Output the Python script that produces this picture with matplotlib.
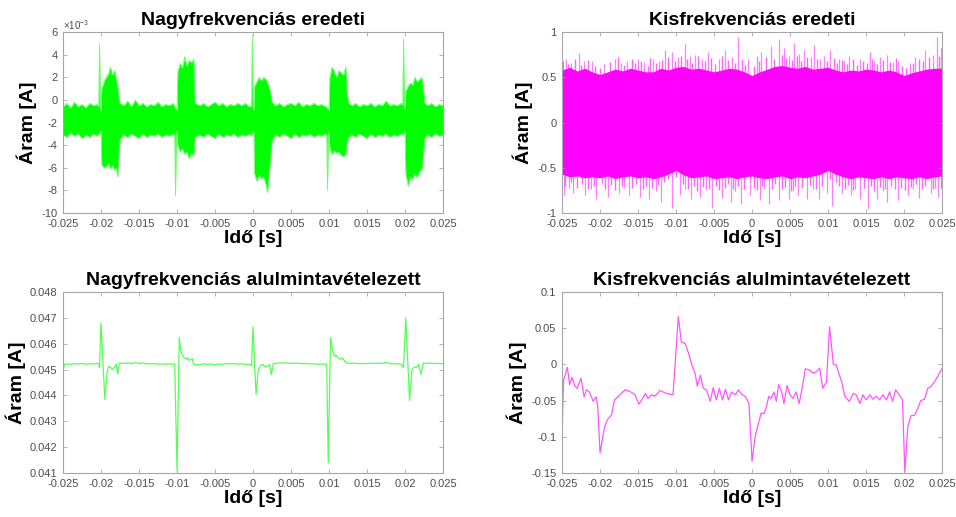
import numpy as np
import matplotlib
matplotlib.use("Agg")
import matplotlib.pyplot as plt

plt.rcParams['font.family'] = ['Liberation Sans', 'DejaVu Sans']
plt.rcParams['mathtext.fontset'] = 'custom'
plt.rcParams['mathtext.rm'] = 'Liberation Sans'

# --- Nagyfrekvenciás eredeti: envelope of the dense signal (x1e-3 A)
hf_t = [-0.0250, -0.0245, -0.0240, -0.0235, -0.0230, -0.0225, -0.0220, -0.0215, -0.0210, -0.0205,
        -0.0203, -0.0202, -0.0201, -0.0200,
        -0.0199, -0.0195, -0.0190, -0.0188, -0.0185, -0.0182, -0.0180, -0.0178, -0.0177, -0.0175,
        -0.0170, -0.0165, -0.0160, -0.0155, -0.0150, -0.0145, -0.0140, -0.0135, -0.0130, -0.0125,
        -0.0120, -0.0115, -0.0110, -0.0105,
        -0.0103, -0.0102, -0.0101, -0.0100,
        -0.0099, -0.0096, -0.0093, -0.0090, -0.0087, -0.0084, -0.0081, -0.0078, -0.0077, -0.0076,
        -0.0070, -0.0065, -0.0060, -0.0055, -0.0050, -0.0045, -0.0040, -0.0035, -0.0030, -0.0025,
        -0.0020, -0.0015, -0.0010, -0.0005,
        -0.0002, -0.0001, 0.0000, 0.0001,
        0.0002, 0.0005, 0.0008, 0.0011, 0.0014, 0.0017, 0.0019, 0.0022, 0.0025,
        0.0030, 0.0035, 0.0040, 0.0045, 0.0050, 0.0055, 0.0060, 0.0065, 0.0070, 0.0075,
        0.0080, 0.0085, 0.0090, 0.0095,
        0.0097, 0.0098, 0.0099, 0.0100,
        0.0101, 0.0104, 0.0107, 0.0110, 0.0113, 0.0116, 0.0119, 0.0122, 0.0124, 0.0126,
        0.0130, 0.0135, 0.0140, 0.0145, 0.0150, 0.0155, 0.0160, 0.0165, 0.0170, 0.0175,
        0.0180, 0.0185, 0.0190, 0.0195,
        0.0197, 0.0198, 0.0199, 0.0200,
        0.0201, 0.0204, 0.0207, 0.0210, 0.0213, 0.0216, 0.0219, 0.0222, 0.0224, 0.0226,
        0.0230, 0.0235, 0.0240, 0.0245, 0.0250]
hf_hi = [-0.6, -0.3, -0.7, -0.2, -0.6, -0.4, -0.7, -0.3, -0.5, -0.4,
         -0.6, 5.0, -0.8, -1.0,
         1.0, 1.8, 2.3, 2.9, 2.2, 2.6, 1.8, 1.2, 0.5, -0.3,
         -0.5, -0.1, -0.6, 0.0, -0.5, -0.3, -0.6, -0.4, -0.5, -0.2,
         -0.6, -0.4, -0.5, -0.3,
         -0.6, -0.8, -0.8, -0.9,
         2.5, 3.2, 2.8, 3.8, 3.0, 3.5, 3.3, 3.6, 1.0, -0.3,
         -0.5, -0.3, -0.6, -0.4, -0.2, -0.5, -0.3, -0.6, -0.4, -0.5,
         -0.3, -0.5, -0.3, -0.6,
         -0.5, 5.7, -0.8, -0.9,
         1.2, 1.6, 2.0, 1.7, 2.0, 1.8, 1.5, 1.0, -0.2,
         -0.5, -0.3, -0.6, -0.4, -0.3, -0.5, -0.2, -0.6, -0.4, -0.5,
         -0.3, -0.5, -0.4, -0.6,
         -0.6, -0.8, -0.8, -0.9,
         2.0, 2.9, 2.5, 2.0, 2.6, 2.4, 2.2, 2.9, 0.5, -0.3,
         -0.5, -0.3, -0.6, -0.4, -0.5, -0.3, -0.6, -0.4, -0.5, -0.1,
         -0.5, -0.4, -0.5, -0.3,
         -0.5, 5.4, -0.8, -0.9,
         0.8, 1.2, 1.5, 1.3, 2.0, 1.6, 1.8, 2.0, 1.0, -0.3,
         -0.5, -0.3, -0.6, -0.4, -0.5]
hf_lo = [-3.1, -3.3, -2.9, -3.2, -3.0, -3.4, -3.1, -3.3, -3.0, -3.2,
         -3.0, -3.0, -2.8, -2.8,
         -5.8, -6.0, -5.6, -6.1, -5.8, -6.2, -6.0, -6.8, -5.5, -3.5,
         -3.1, -3.3, -3.0, -3.2, -3.4, -3.0, -3.3, -3.1, -3.2, -3.0,
         -3.3, -3.1, -3.2, -3.0,
         -3.1, -8.5, -2.8, -2.8,
         -4.0, -4.6, -4.3, -4.8, -4.6, -5.2, -4.7, -5.0, -4.0, -3.3,
         -3.1, -3.3, -3.0, -3.2, -3.4, -3.0, -3.3, -3.1, -3.2, -3.0,
         -3.3, -3.1, -3.2, -3.0,
         -3.2, -2.9, -2.8, -2.8,
         -6.5, -7.2, -6.6, -7.0, -6.8, -7.5, -8.2, -6.0, -3.6,
         -3.1, -3.3, -3.0, -3.2, -3.4, -3.0, -3.3, -3.1, -3.2, -3.0,
         -3.3, -3.1, -3.2, -3.0,
         -3.1, -8.0, -2.8, -2.8,
         -4.2, -4.8, -4.5, -4.7, -4.6, -4.9, -5.0, -4.8, -3.8, -3.3,
         -3.1, -3.3, -3.0, -3.2, -3.4, -3.0, -3.3, -3.1, -3.2, -3.0,
         -3.3, -3.1, -3.2, -3.0,
         -3.1, -3.0, -2.8, -2.8,
         -6.5, -7.6, -6.8, -7.0, -6.5, -6.9, -6.3, -6.2, -5.0, -3.4,
         -3.1, -3.3, -3.0, -3.2, -3.1]

# --- Kisfrekvenciás eredeti: core band every 1 ms plus spikes (A)
kf_t = [-0.025, -0.024, -0.023, -0.022, -0.021, -0.020, -0.019, -0.018, -0.017, -0.016,
        -0.015, -0.014, -0.013, -0.012, -0.011, -0.010, -0.009, -0.008, -0.007, -0.006,
        -0.005, -0.004, -0.003, -0.002, -0.001, 0.000, 0.001, 0.002, 0.003, 0.004,
        0.005, 0.006, 0.007, 0.008, 0.009, 0.010, 0.011, 0.012, 0.013, 0.014,
        0.015, 0.016, 0.017, 0.018, 0.019, 0.020, 0.021, 0.022, 0.023, 0.024, 0.025]
kf_hi = [0.58, 0.61, 0.57, 0.60, 0.56, 0.53, 0.56, 0.59, 0.57, 0.60,
         0.58, 0.56, 0.56, 0.60, 0.58, 0.61, 0.62, 0.59, 0.60, 0.58,
         0.56, 0.58, 0.60, 0.59, 0.56, 0.52, 0.56, 0.59, 0.62, 0.63,
         0.61, 0.60, 0.62, 0.59, 0.60, 0.61, 0.58, 0.56, 0.58, 0.57,
         0.59, 0.58, 0.56, 0.58, 0.56, 0.52, 0.55, 0.57, 0.59, 0.60, 0.60]
kf_lo = [-0.57, -0.60, -0.59, -0.61, -0.60, -0.61, -0.59, -0.62, -0.60, -0.59,
         -0.61, -0.60, -0.62, -0.60, -0.57, -0.53, -0.58, -0.61, -0.60, -0.59,
         -0.62, -0.61, -0.60, -0.62, -0.60, -0.59, -0.61, -0.62, -0.60, -0.59,
         -0.62, -0.60, -0.61, -0.59, -0.57, -0.53, -0.57, -0.60, -0.62, -0.60,
         -0.61, -0.62, -0.60, -0.62, -0.60, -0.61, -0.62, -0.60, -0.62, -0.60, -0.59]
kf_up_t = [-0.0245, -0.0238, -0.0228, -0.0221, -0.0210, -0.0195, -0.0180, -0.0172, -0.0165, -0.0150,
           -0.0142, -0.0130, -0.0122, -0.0115, -0.0105, -0.0097, -0.0088, -0.0082, -0.0075, -0.0066,
           -0.0058, -0.0044, -0.0035, -0.0026, -0.0018, -0.0005, 0.0006, 0.0012, 0.0025, 0.0035,
           0.0042, 0.0048, 0.0055, 0.0062, 0.0068, 0.0078, 0.0082, 0.0090, 0.0095, 0.0102,
           0.0115, 0.0121, 0.0128, 0.0142, 0.0155, 0.0161, 0.0168, 0.0178, 0.0185, 0.0192,
           0.0208, 0.0215, 0.0228, 0.0238, 0.0243, 0.0248]
kf_up_v = [0.70, 0.66, 0.77, 0.68, 0.68, 0.65, 0.70, 0.66, 0.68, 0.70,
           0.67, 0.70, 0.68, 0.80, 0.78, 0.72, 0.87, 0.74, 0.75, 0.70,
           0.78, 0.70, 0.80, 0.72, 0.94, 0.70, 0.74, 0.78, 0.85, 0.92,
           0.82, 0.74, 0.88, 0.76, 0.80, 0.72, 0.86, 0.70, 0.74, 0.80,
           0.70, 0.68, 0.73, 0.70, 0.78, 0.68, 0.72, 0.75, 0.67, 0.68,
           0.66, 0.72, 0.80, 0.75, 0.94, 0.82]
kf_dn_t = [-0.0248, -0.0241, -0.0235, -0.0220, -0.0212, -0.0205, -0.0190, -0.0175, -0.0168, -0.0162,
           -0.0148, -0.0135, -0.0127, -0.0120, -0.0105, -0.0095, -0.0088, -0.0080, -0.0068, -0.0060,
           -0.0053, -0.0040, -0.0028, -0.0022, -0.0015, -0.0003, 0.0010, 0.0016, 0.0022, 0.0035,
           0.0048, 0.0054, 0.0060, 0.0072, 0.0080, 0.0088, 0.0098, 0.0105, 0.0118, 0.0130,
           0.0136, 0.0142, 0.0152, 0.0165, 0.0172, 0.0178, 0.0192, 0.0205, 0.0212, 0.0220,
           0.0235, 0.0241, 0.0245]
kf_dn_v = [-0.80, -0.72, -0.78, -0.80, -0.74, -0.85, -0.82, -0.78, -0.72, -0.80,
           -0.82, -0.85, -0.76, -0.88, -0.95, -0.80, -0.74, -0.85, -0.82, -0.75,
           -0.95, -0.83, -0.88, -0.76, -0.90, -0.80, -0.86, -0.74, -0.90, -0.86,
           -0.84, -0.76, -0.80, -0.85, -0.74, -0.84, -0.78, -0.92, -0.78, -0.80,
           -0.74, -0.84, -0.96, -0.85, -0.76, -0.88, -0.86, -0.80, -0.74, -0.83,
           -0.78, -0.72, -0.82]
# shorter spikes forming the fuzzy edge of the band
kf_up2_t = [-0.0249, -0.0242, -0.0233, -0.0225, -0.0216, -0.0206, -0.0200, -0.0187, -0.0177, -0.0169,
            -0.0158, -0.0154, -0.0146, -0.0137, -0.0134, -0.0126, -0.0118, -0.0110, -0.0101, -0.0093,
            -0.0085, -0.0079, -0.0071, -0.0062, -0.0054, -0.0049, -0.0040, -0.0031, -0.0022, -0.0013,
            -0.0009, 0.0002, 0.0009, 0.0018, 0.0029, 0.0039, 0.0045, 0.0052, 0.0059, 0.0065,
            0.0072, 0.0086, 0.0099, 0.0108, 0.0112, 0.0118, 0.0125, 0.0133, 0.0138, 0.0146,
            0.0151, 0.0158, 0.0165, 0.0172, 0.0182, 0.0189, 0.0197, 0.0203, 0.0212, 0.0220,
            0.0225, 0.0233, 0.0246]
kf_up2_v = [0.68, 0.65, 0.70, 0.64, 0.69, 0.62, 0.60, 0.67, 0.72, 0.64,
            0.70, 0.66, 0.68, 0.63, 0.71, 0.66, 0.69, 0.72, 0.68, 0.74,
            0.70, 0.66, 0.73, 0.68, 0.71, 0.65, 0.74, 0.69, 0.66, 0.70,
            0.64, 0.62, 0.68, 0.72, 0.70, 0.75, 0.71, 0.69, 0.73, 0.68,
            0.72, 0.70, 0.68, 0.71, 0.66, 0.69, 0.65, 0.70, 0.64, 0.68,
            0.66, 0.70, 0.65, 0.69, 0.67, 0.71, 0.62, 0.60, 0.66, 0.70,
            0.68, 0.72, 0.74]
kf_dn2_t = [-0.0246, -0.0238, -0.0230, -0.0224, -0.0216, -0.0208, -0.0198, -0.0194, -0.0185, -0.0180,
            -0.0171, -0.0158, -0.0153, -0.0143, -0.0139, -0.0131, -0.0124, -0.0116, -0.0110, -0.0100,
            -0.0091, -0.0084, -0.0076, -0.0072, -0.0064, -0.0057, -0.0047, -0.0044, -0.0035, -0.0031,
            -0.0025, -0.0018, -0.0010, 0.0003, 0.0006, 0.0013, 0.0026, 0.0030, 0.0040, 0.0044,
            0.0051, 0.0057, 0.0066, 0.0076, 0.0084, 0.0092, 0.0102, 0.0110, 0.0114, 0.0122,
            0.0126, 0.0133, 0.0147, 0.0156, 0.0160, 0.0169, 0.0175, 0.0183, 0.0188, 0.0196,
            0.0201, 0.0209, 0.0216, 0.0224, 0.0228, 0.0238, 0.0249]
kf_dn2_v = [-0.70, -0.66, -0.72, -0.68, -0.74, -0.70, -0.67, -0.73, -0.69, -0.75,
            -0.70, -0.72, -0.68, -0.74, -0.70, -0.72, -0.69, -0.66, -0.62, -0.60,
            -0.68, -0.73, -0.70, -0.76, -0.71, -0.74, -0.70, -0.75, -0.72, -0.68,
            -0.74, -0.70, -0.73, -0.72, -0.75, -0.70, -0.73, -0.68, -0.74, -0.71,
            -0.76, -0.70, -0.72, -0.69, -0.74, -0.70, -0.62, -0.66, -0.70, -0.73,
            -0.69, -0.75, -0.72, -0.70, -0.76, -0.71, -0.74, -0.70, -0.73, -0.72,
            -0.75, -0.71, -0.68, -0.73, -0.70, -0.74, -0.72]

# --- Nagyfrekvenciás alulmintavételezett (A)
nd_t = [-0.0250, -0.0248, -0.0245, -0.0240, -0.0235, -0.0230, -0.0225, -0.0220, -0.0215, -0.0210,
        -0.0205, -0.0203, -0.0202, -0.0200, -0.0197, -0.0195, -0.0192, -0.0190, -0.0187, -0.0185,
        -0.0182, -0.0180, -0.0178, -0.0176, -0.0170, -0.0165, -0.0160, -0.0155, -0.0150, -0.0145,
        -0.0140, -0.0135, -0.0130, -0.0125, -0.0120, -0.0115, -0.0110, -0.0105, -0.0103, -0.0100,
        -0.0097, -0.0095, -0.0092, -0.0090, -0.0088, -0.0086, -0.0084, -0.0082, -0.0080, -0.0078,
        -0.0075, -0.0070, -0.0065, -0.0060, -0.0055, -0.0050, -0.0045, -0.0040, -0.0035, -0.0030,
        -0.0025, -0.0020, -0.0015, -0.0010, -0.0005, -0.0002, 0.0000, 0.0002, 0.0004, 0.0007,
        0.0010, 0.0013, 0.0016, 0.0019, 0.0022, 0.0024, 0.0027, 0.0030, 0.0035, 0.0040,
        0.0045, 0.0050, 0.0055, 0.0060, 0.0065, 0.0070, 0.0075, 0.0080, 0.0085, 0.0090,
        0.0095, 0.0097, 0.0099, 0.0102, 0.0105, 0.0108, 0.0110, 0.0112, 0.0115, 0.0118,
        0.0121, 0.0124, 0.0130, 0.0135, 0.0140, 0.0145, 0.0150, 0.0155, 0.0160, 0.0165,
        0.0170, 0.0175, 0.0180, 0.0185, 0.0190, 0.0195, 0.0198, 0.0201, 0.0204, 0.0206,
        0.0209, 0.0212, 0.0215, 0.0218, 0.0221, 0.0224, 0.0230, 0.0235, 0.0240, 0.0245, 0.0250]
nd_v = [0.04495, 0.04520, 0.04522, 0.04520, 0.04523, 0.04522, 0.04524, 0.04521, 0.04523, 0.04522,
        0.04524, 0.04522, 0.04508, 0.04680, 0.04500, 0.04385, 0.04490, 0.04512, 0.04508, 0.04500,
        0.04510, 0.04522, 0.04482, 0.04525, 0.04524, 0.04526, 0.04523, 0.04527, 0.04524, 0.04526,
        0.04523, 0.04522, 0.04523, 0.04521, 0.04522, 0.04521, 0.04522, 0.04521, 0.04520, 0.04110,
        0.04625, 0.04570, 0.04550, 0.04545, 0.04540, 0.04545, 0.04535, 0.04540, 0.04542, 0.04520,
        0.04518, 0.04520, 0.04522, 0.04520, 0.04522, 0.04518, 0.04522, 0.04520, 0.04524, 0.04522,
        0.04523, 0.04521, 0.04522, 0.04520, 0.04521, 0.04515, 0.04665, 0.04530, 0.04405, 0.04500,
        0.04515, 0.04520, 0.04510, 0.04512, 0.04520, 0.04480, 0.04525, 0.04524, 0.04526, 0.04525,
        0.04526, 0.04524, 0.04525, 0.04524, 0.04523, 0.04524, 0.04522, 0.04523, 0.04521, 0.04522,
        0.04521, 0.04520, 0.04140, 0.04625, 0.04570, 0.04550, 0.04555, 0.04545, 0.04540, 0.04545,
        0.04530, 0.04525, 0.04524, 0.04525, 0.04523, 0.04524, 0.04523, 0.04525, 0.04524, 0.04525,
        0.04524, 0.04528, 0.04524, 0.04522, 0.04523, 0.04521, 0.04508, 0.04700, 0.04510, 0.04380,
        0.04500, 0.04510, 0.04508, 0.04520, 0.04482, 0.04525, 0.04524, 0.04525, 0.04523, 0.04524, 0.04523]

# --- Kisfrekvenciás alulmintavételezett (A)
kd_t = [-0.0250, -0.0248, -0.0243, -0.0240, -0.0237, -0.0233, -0.0230, -0.0225, -0.0221, -0.0218,
        -0.0214, -0.0209, -0.0205, -0.0203, -0.0200, -0.0194, -0.0190, -0.0185, -0.0181, -0.0174,
        -0.0167, -0.0161, -0.0154, -0.0149, -0.0144, -0.0140, -0.0137, -0.0132, -0.0128, -0.0121,
        -0.0113, -0.0104, -0.0097, -0.0093, -0.0088, -0.0084, -0.0079, -0.0075, -0.0072, -0.0068,
        -0.0064, -0.0060, -0.0055, -0.0051, -0.0047, -0.0043, -0.0039, -0.0035, -0.0031, -0.0027,
        -0.0022, -0.0018, -0.0013, -0.0009, -0.0004, 0.0000, 0.0004, 0.0008, 0.0012, 0.0016,
        0.0019, 0.0022, 0.0025, 0.0029, 0.0032, 0.0035, 0.0039, 0.0042, 0.0046, 0.0050,
        0.0054, 0.0058, 0.0062, 0.0066, 0.0070, 0.0076, 0.0080, 0.0085, 0.0089, 0.0093,
        0.0098, 0.0102, 0.0107, 0.0111, 0.0114, 0.0118, 0.0122, 0.0128, 0.0133, 0.0137,
        0.0142, 0.0146, 0.0150, 0.0155, 0.0159, 0.0163, 0.0168, 0.0172, 0.0177, 0.0181,
        0.0185, 0.0189, 0.0195, 0.0198, 0.0201, 0.0205, 0.0209, 0.0214, 0.0218, 0.0222,
        0.0227, 0.0231, 0.0235, 0.0240, 0.0244, 0.0250]
kd_v = [-0.097, -0.022, -0.004, -0.028, -0.018, -0.030, -0.033, -0.019, -0.045, -0.035,
        -0.038, -0.051, -0.045, -0.058, -0.122, -0.086, -0.076, -0.070, -0.049, -0.042,
        -0.035, -0.037, -0.042, -0.055, -0.047, -0.040, -0.047, -0.042, -0.044, -0.036,
        -0.040, -0.042, 0.066, 0.031, 0.029, 0.017, -0.001, -0.012, -0.030, -0.015,
        -0.033, -0.035, -0.051, -0.032, -0.049, -0.033, -0.049, -0.034, -0.049, -0.038,
        -0.042, -0.035, -0.042, -0.044, -0.054, -0.134, -0.100, -0.083, -0.067, -0.068,
        -0.058, -0.044, -0.047, -0.038, -0.051, -0.028, -0.038, -0.054, -0.029, -0.042,
        -0.047, -0.038, -0.054, -0.033, -0.006, -0.008, -0.012, -0.010, -0.005, -0.033,
        -0.024, 0.052, 0.000, -0.001, -0.012, -0.024, -0.044, -0.051, -0.040, -0.042,
        -0.054, -0.042, -0.049, -0.042, -0.048, -0.044, -0.049, -0.042, -0.049, -0.038,
        -0.051, -0.035, -0.044, -0.049, -0.148, -0.086, -0.071, -0.070, -0.061, -0.050,
        -0.048, -0.033, -0.031, -0.024, -0.017, -0.006]

x_ticks = [-0.025, -0.02, -0.015, -0.01, -0.005, 0, 0.005, 0.01, 0.015, 0.02, 0.025]
x_labels = ['-0.025', '-0.02', '-0.015', '-0.01', '-0.005', '0', '0.005', '0.01', '0.015', '0.02', '0.025']

green = '#00ff00'
magenta = '#ff00ff'
box_col = '#a6a6a6'
tick_col = '#4d4d4d'

fig = plt.figure(figsize=(9.56, 5.17), dpi=100)
ax1 = fig.add_axes([0.0659, 0.588, 0.3975, 0.350])
ax2 = fig.add_axes([0.5879, 0.588, 0.3975, 0.350])
ax3 = fig.add_axes([0.0659, 0.0851, 0.3975, 0.350])
ax4 = fig.add_axes([0.5879, 0.0851, 0.3975, 0.350])

# top left
hf_hi_a = np.array(hf_hi) * 1e-3
hf_lo_a = np.array(hf_lo) * 1e-3
ax1.fill_between(hf_t, hf_lo_a, hf_hi_a, color=green, lw=0)
ax1.plot(hf_t, hf_hi_a, color='#66ff66', lw=0.6)
ax1.plot(hf_t, hf_lo_a, color='#66ff66', lw=0.6)
ax1.set_ylim(-0.010, 0.006)
ax1.set_yticks(np.arange(-10, 7, 2) * 1e-3)
ax1.set_yticklabels([str(v) for v in range(-10, 7, 2)])
ax1.text(0.0, 1.0, r'$\times10^{-3}$', transform=ax1.transAxes, fontsize=7,
         color=tick_col, ha='left', va='bottom')
ax1.set_title('Nagyfrekvenciás eredeti')

# top right
ax2.vlines(kf_up_t, 0, kf_up_v, color=magenta, lw=0.9, alpha=0.5)
ax2.vlines(kf_dn_t, kf_dn_v, 0, color=magenta, lw=0.9, alpha=0.5)
ax2.vlines(kf_up2_t, 0, kf_up2_v, color=magenta, lw=1.0, alpha=0.6)
ax2.vlines(kf_dn2_t, kf_dn2_v, 0, color=magenta, lw=1.0, alpha=0.6)
ax2.fill_between(kf_t, kf_lo, kf_hi, color=magenta, lw=0)
ax2.set_ylim(-1, 1)
ax2.set_yticks([-1, -0.5, 0, 0.5, 1])
ax2.set_yticklabels(['-1', '-0.5', '0', '0.5', '1'])
ax2.set_title('Kisfrekvenciás eredeti')

# bottom left
ax3.plot(nd_t, nd_v, color='#55ff55', lw=0.9)
ax3.set_ylim(0.041, 0.048)
ax3.set_yticks([0.041, 0.042, 0.043, 0.044, 0.045, 0.046, 0.047, 0.048])
ax3.set_yticklabels(['0.041', '0.042', '0.043', '0.044', '0.045', '0.046', '0.047', '0.048'])
ax3.set_title('Nagyfrekvenciás alulmintavételezett')

# bottom right
ax4.plot(kd_t, kd_v, color='#ff55ff', lw=0.9)
ax4.set_ylim(-0.15, 0.1)
ax4.set_yticks([-0.15, -0.1, -0.05, 0, 0.05, 0.1])
ax4.set_yticklabels(['-0.15', '-0.1', '-0.05', '0', '0.05', '0.1'])
ax4.set_title('Kisfrekvenciás alulmintavételezett')

for ax in (ax1, ax2, ax3, ax4):
    ax.set_xlim(-0.025, 0.025)
    ax.set_xticks(x_ticks)
    ax.set_xticklabels(x_labels)
    ax.tick_params(direction='in', length=3, width=0.6, colors=box_col,
                   labelcolor=tick_col, labelsize=8, top=True, right=True, pad=4)
    for s in ax.spines.values():
        s.set_color(box_col)
        s.set_linewidth(0.8)
    ax.set_xlabel('Idő [s]', fontsize=14, fontweight='bold', labelpad=1)
    ax.set_ylabel('Áram [A]', fontsize=14, fontweight='bold', labelpad=3)
    ax.set_title(ax.get_title(), fontsize=14, fontweight='bold', pad=5)

fig.savefig('out.png', dpi=100)
